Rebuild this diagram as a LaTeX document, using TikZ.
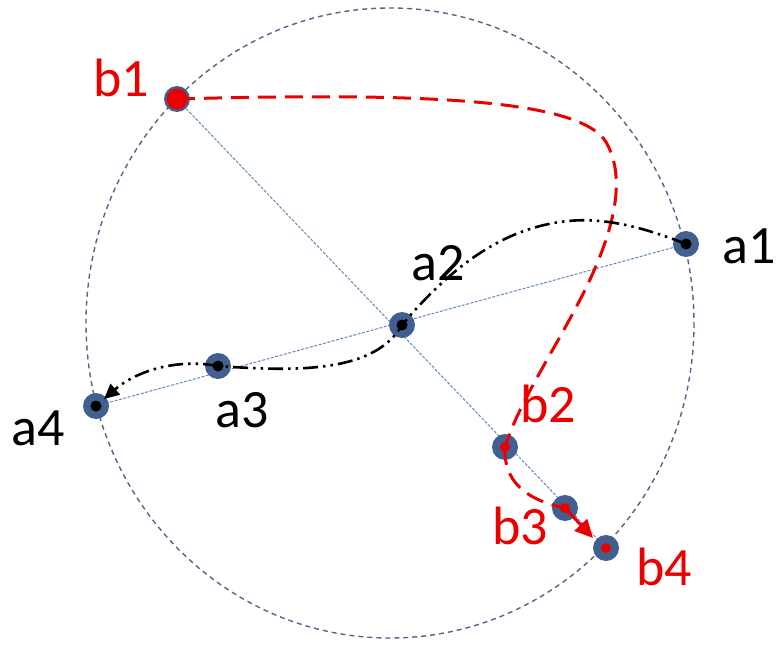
\documentclass[tikz,border=0pt]{standalone}
\usepackage{fontspec}
\setmainfont{Carlito}
\usetikzlibrary{arrows.meta}
\definecolor{ring}{RGB}{65,96,143}
\definecolor{guide}{RGB}{100,135,190}
\definecolor{circ}{RGB}{85,100,135}
\definecolor{rd}{RGB}{235,0,0}
\tikzset{
  dotnode/.style={circle,fill=ring,inner sep=0pt,minimum size=26pt},
  lbl/.style={inner sep=0pt,font=\fontsize{54}{58}\selectfont},
  guideline/.style={guide,line width=1pt,dash pattern=on 3pt off 1.5pt},
  redpath/.style={rd,line width=3pt,dash pattern=on 18pt off 9pt},
  blackpath/.style={black,line width=2.6pt,dash pattern=on 15pt off 5pt on 2.5pt off 5pt on 2.5pt off 5pt},
}
\begin{document}
\begin{tikzpicture}[x=1pt,y=-1pt]
\useasboundingbox (0,0) rectangle (780,645);
% outer circle
\draw[circ,line width=1.4pt,dash pattern=on 5pt off 4pt] (390,323) ellipse [x radius=304, y radius=315];
% guide lines
\draw[guideline] (177,99) -- (606,548);
\draw[guideline] (686,244) -- (96,406);
% dots
\node[dotnode] (b1) at (177,99) {};
\node[dotnode] (a1) at (686,244) {};
\node[dotnode] (a2) at (402,325) {};
\node[dotnode] (a3) at (218,366) {};
\node[dotnode] (a4) at (96,406) {};
\node[dotnode] (b2) at (505,447) {};
\node[dotnode] (b3) at (565,508) {};
\node[dotnode] (b4) at (606,548) {};
\fill[rd] (b1.center) circle (10.5);
\foreach \n in {a1,a2,a3,a4} \fill[black] (\n.center) circle (5.5);
\foreach \n in {b2,b3,b4} \fill[rd] (\n.center) circle (5);
% red dashed path b1 -> b2
\draw[redpath] (b1.center) .. controls (430,92) and (580,100) .. (606,142)
  .. controls (628,180) and (612,235) .. (585,290)
  .. controls (555,350) and (520,400) .. (b2.center);
% red dashed b2 -> b3
\draw[redpath] (b2.center) .. controls (503,480) and (525,500) .. (b3.center);
% red arrow b3 -> b4
\draw[rd,line width=3pt,-{Triangle[length=18pt,width=17pt]}] (b3.center) -- (593,538);
% black dash-dot-dot path a1 -> a2 -> a3 -> a4
\draw[blackpath] (a1.center) .. controls (640,226) and (600,216) .. (560,222)
  .. controls (505,230) and (455,262) .. (a2.center)
  .. controls (375,372) and (300,372) .. (a3.center);
\draw[blackpath,-{Triangle[length=15pt,width=14pt]}] (a3.center) .. controls (175,358) and (135,372) .. (104,399);
% labels
\node[lbl,text=rd] (lb1) at (121,78) {b1};
\node[lbl] (la1) at (749,246) {a1};
\node[lbl] (la2) at (438,263) {a2};
\node[lbl] (la3) at (242,410) {a3};
\node[lbl] (la4) at (38,428) {a4};
\node[lbl,text=rd] (lb2) at (548,404) {b2};
\node[lbl,text=rd] (lb3) at (520,526) {b3};
\node[lbl,text=rd] (lb4) at (664,567) {b4};
\end{tikzpicture}
\end{document}
